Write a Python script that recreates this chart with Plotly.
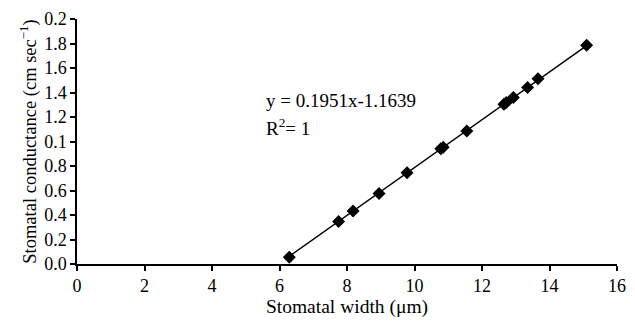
import plotly.graph_objects as go

# Data
width_um = [6.29, 7.75, 8.18, 8.95, 9.78, 10.78, 10.85, 11.55, 12.65, 12.72, 12.93, 13.35, 13.66, 15.10]
conductance = [0.056, 0.347, 0.433, 0.575, 0.744, 0.940, 0.953, 1.086, 1.305, 1.318, 1.360, 1.440, 1.512, 1.785]

slope = 0.1951
intercept = -1.1639

x_ticks = [0, 2, 4, 6, 8, 10, 12, 14, 16]
y_tickvals = [0.0, 0.2, 0.4, 0.6, 0.8, 1.0, 1.2, 1.4, 1.6, 1.8, 2.0]
y_ticktext = ["0.0", "0.2", "0.4", "0.6", "0.8", "0.1", "1.2", "1.4", "1.6", "1.8", "0.2"]

font_family = "Liberation Serif"
fs = 18

line_x = [min(width_um), max(width_um)]
line_y = [slope * v + intercept for v in line_x]

fig = go.Figure()
fig.add_trace(go.Scatter(
    x=line_x, y=line_y, mode="lines",
    line=dict(color="black", width=1.5), hoverinfo="skip", showlegend=False))
fig.add_trace(go.Scatter(
    x=width_um, y=conductance, mode="markers",
    marker=dict(symbol="diamond", color="black", size=10), showlegend=False))

fig.add_annotation(
    x=5.55, y=1.335, xref="x", yref="y", xanchor="left", yanchor="middle",
    text="y = 0.1951x-1.1639", showarrow=False,
    font=dict(family=font_family, size=19, color="black"))
fig.add_annotation(
    x=5.55, y=1.12, xref="x", yref="y", xanchor="left", yanchor="middle",
    text="R<sup>2</sup>= 1", showarrow=False,
    font=dict(family=font_family, size=19, color="black"))

fig.update_layout(
    width=635, height=323,
    margin=dict(l=77, r=9, t=16, b=59),
    paper_bgcolor="white", plot_bgcolor="white",
    font=dict(family=font_family, size=fs, color="black"),
    xaxis=dict(
        range=[0, 16], tickvals=x_ticks, ticks="outside", ticklen=5,
        tickwidth=1.5, tickcolor="black", showline=True, linecolor="black",
        linewidth=1.5, showgrid=False, zeroline=False,
        tickfont=dict(family=font_family, size=fs),
        title=dict(text="Stomatal width (μm)", standoff=1,
                   font=dict(family=font_family, size=19.5))),
    yaxis=dict(
        range=[0, 2.0], tickvals=y_tickvals, ticktext=y_ticktext,
        ticks="outside", ticklen=5, tickwidth=1.5, tickcolor="black",
        showline=True, linecolor="black", linewidth=1.5, showgrid=False,
        zeroline=False,
        tickfont=dict(family=font_family, size=fs),
        title=dict(text="Stomatal conductance (cm sec<sup>−1</sup>)", standoff=3,
                   font=dict(family=font_family, size=18.5))),
)

fig.write_html("out.html")
